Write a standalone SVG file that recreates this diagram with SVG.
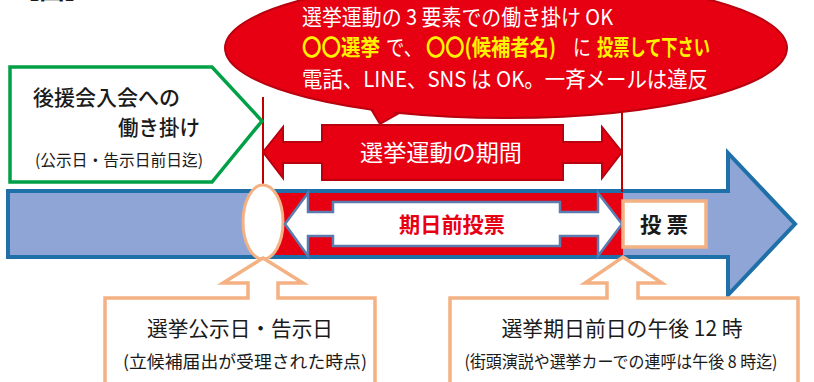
<svg xmlns="http://www.w3.org/2000/svg" width="814" height="382" viewBox="0 0 814 382">
<style>
text{font-family:"Noto Sans CJK JP","Noto Sans",sans-serif;}
.blk{fill:#1a1a1a;}
.wht{fill:#ffffff;}
.yel{fill:#FFF200;font-weight:bold;}
.orange{fill:#ffffff;stroke:#F4B183;stroke-width:3.5;}
.vline{stroke:#C00000;stroke-width:2;}
</style>
<rect width="814" height="382" fill="#ffffff"/>
<text x="14" y="-1" font-size="28" font-weight="bold" class="blk" textLength="76" lengthAdjust="spacingAndGlyphs">【図】</text>

<g id="timeline">
  <path d="M8,191 H728 V153 L795,224 L728,295 V257 H8 Z" fill="#8EA5D6"/>
  <rect x="262" y="192" width="361" height="64" fill="#E60012"/>
  <path d="M8,191 H728 V153 L795,224 L728,295 V257 H8 Z" fill="none" stroke="#1F6FA8" stroke-width="4"/>
</g>

<g id="connectors">
  <line class="vline" x1="263" y1="97" x2="263" y2="187"/>
  <line class="vline" x1="622" y1="108" x2="622" y2="192"/>
</g>

<g id="kokuji-marker">
  <ellipse cx="263" cy="222" rx="20" ry="37" fill="#ffffff" stroke="#F4B183" stroke-width="3"/>
</g>

<g id="kijitsumae">
  <path d="M285,224 L308,193 V212 H333 V202 H560 V212 H598 V193 L622,224 L598,256 V236 H560 V246 H333 V236 H308 V256 Z" fill="#ffffff" stroke="#5B7CB0" stroke-width="2.5"/>
  <text x="452" y="232" font-size="21" font-weight="bold" fill="#E60012" text-anchor="middle" textLength="106" lengthAdjust="spacingAndGlyphs">期日前投票</text>
</g>

<g id="touhyou">
  <rect x="623" y="201" width="83" height="46" fill="#ffffff" stroke="#F4B183" stroke-width="3.5"/>
  <text x="664" y="232" font-size="21" font-weight="bold" class="blk" text-anchor="middle" textLength="48" lengthAdjust="spacingAndGlyphs">投 票</text>
</g>

<g id="senkyo-undou-kikan">
  <path d="M263,152 L283,127 V142 H322 V125 H563 V142 H602 V127 L622,152 L602,178 V163 H563 V180 H322 V163 H283 V178 Z" fill="#E60012" stroke="#B8000F" stroke-width="2"/>
  <text x="441" y="161" font-size="23" class="wht" text-anchor="middle" textLength="162" lengthAdjust="spacingAndGlyphs">選挙運動の期間</text>
</g>

<g id="bubble">
  <path d="M368,104 L380,124 L408,108 Z" fill="#E60012" stroke="#B8000F" stroke-width="2"/>
  <ellipse cx="506" cy="48" rx="281" ry="70" fill="#E60012" stroke="#B8000F" stroke-width="2"/>
  <path d="M371,104 L380,121 L405,106 Z" fill="#E60012"/>
  <text x="302" y="25" font-size="22" class="wht" textLength="311" lengthAdjust="spacingAndGlyphs">選挙運動の 3 要素での働き掛け OK</text>
  <text x="302" y="55" font-size="22" class="yel" textLength="78" lengthAdjust="spacingAndGlyphs">〇〇選挙</text>
  <text x="386" y="55" font-size="22" class="wht" textLength="36" lengthAdjust="spacingAndGlyphs">で、</text>
  <text x="426" y="55" font-size="22" class="yel" textLength="130" lengthAdjust="spacingAndGlyphs">〇〇(候補者名)</text>
  <text x="573" y="55" font-size="22" class="wht" textLength="18" lengthAdjust="spacingAndGlyphs">に</text>
  <text x="597" y="55" font-size="22" class="yel" textLength="113" lengthAdjust="spacingAndGlyphs">投票して下さい</text>
  <text x="302" y="87" font-size="22" class="wht" textLength="406" lengthAdjust="spacingAndGlyphs">電話、LINE、SNS は OK。一斉メールは違反</text>
</g>

<g id="kouenkai">
  <path d="M10,67 H212 L262,121 L212,182 H10 Z" fill="#ffffff" stroke="#00A046" stroke-width="3.5"/>
  <text x="33" y="105" font-size="21" font-weight="500" class="blk" textLength="147" lengthAdjust="spacingAndGlyphs">後援会入会への</text>
  <text x="118" y="135" font-size="21" font-weight="500" class="blk" textLength="82" lengthAdjust="spacingAndGlyphs">働き掛け</text>
  <text x="35" y="166" font-size="16" class="blk" textLength="168" lengthAdjust="spacingAndGlyphs">(公示日・告示日前日迄)</text>
</g>

<g id="kokuji-callout">
  <path class="orange" d="M263,258 L303,283 L278,283 L278,298 L375,298 L375,386 L105,386 L105,298 L248,298 L248,283 L223,283 Z"/>
  <text x="240" y="336" font-size="21" class="blk" text-anchor="middle" textLength="186" lengthAdjust="spacingAndGlyphs">選挙公示日・告示日</text>
  <text x="245" y="368" font-size="17" class="blk" text-anchor="middle" textLength="244" lengthAdjust="spacingAndGlyphs">(立候補届出が受理された時点)</text>
</g>

<g id="zenjitsu-callout">
  <path class="orange" d="M623,257 L662,283 L638,283 L638,298 L798,298 L798,386 L450,386 L450,298 L607,298 L607,283 L585,283 Z"/>
  <text x="622" y="336" font-size="21" class="blk" text-anchor="middle" textLength="241" lengthAdjust="spacingAndGlyphs">選挙期日前日の午後 12 時</text>
  <text x="621" y="368" font-size="17" class="blk" text-anchor="middle" textLength="313" lengthAdjust="spacingAndGlyphs">(街頭演説や選挙カーでの連呼は午後 8 時迄)</text>
</g>
</svg>
